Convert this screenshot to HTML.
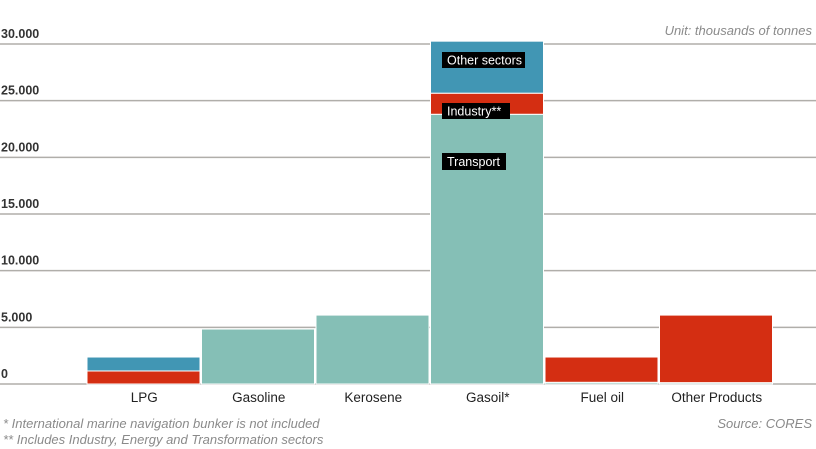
<!DOCTYPE html>
<html><head><meta charset="utf-8"><style>
body{margin:0;background:#fff;}
svg{display:block;font-family:"Liberation Sans Narrow","Liberation Sans",sans-serif;}
</style></head><body>
<svg id="chart" width="816" height="449" viewBox="0 0 816 449">
<text x="812" y="35" text-anchor="end" font-size="13" font-style="italic" fill="#8a8a8a">Unit: thousands of tonnes</text>
<g id="grid"></g>
<g id="bars"></g>
<g id="xlabels"></g>
<g font-size="12.5" fill="#fff">
<rect x="442" y="52" width="83" height="16" fill="#000"/><text x="447" y="64.5" fill="#fff">Other sectors</text>
<rect x="442" y="103" width="68" height="16" fill="#000"/><text x="447" y="115.5" fill="#fff">Industry**</text>
<rect x="442" y="153" width="64" height="17" fill="#000"/><text x="447" y="166" fill="#fff">Transport</text>
</g>
<text x="3" y="428" font-size="13" font-style="italic" fill="#8a8a8a">* International marine navigation bunker is not included</text>
<text x="3" y="444" font-size="13" font-style="italic" fill="#8a8a8a">** Includes Industry, Energy and Transformation sectors</text>
<text x="812" y="428" text-anchor="end" font-size="13" font-style="italic" fill="#8a8a8a">Source: CORES</text>
</svg>
<script>
const categories=["LPG","Gasoline","Kerosene","Gasoil*","Fuel oil","Other Products"];
const transport=[0,4850,6080,23800,150,120];
const industry=[1150,0,0,1860,2230,5960];
const otherSectors=[1230,0,0,4590,0,0];
const yTicks=[0,5000,10000,15000,20000,25000,30000];
const yTickLabels=["0","5.000","10.000","15.000","20.000","25.000","30.000"];
const ns="http://www.w3.org/2000/svg";
const y0=384,pxPer=340/30000,x0=87,bw=114.5;
const y=v=>y0-v*pxPer;
const x=i=>x0+i*bw;
function mk(tag,attrs,parent){const e=document.createElementNS(ns,tag);for(const k in attrs)e.setAttribute(k,attrs[k]);parent.appendChild(e);return e;}
const grid=document.getElementById('grid');
yTicks.forEach((t,i)=>{
 const l=mk('line',{x1:0,x2:816,y1:y(t),y2:y(t),stroke:'#b0aeaa','stroke-width':1.5},grid);
 
 
 const tx=mk('text',{x:1,y:y(t)-6,'font-size':12.5,'font-weight':'bold',fill:'#333'},grid);
 tx.textContent=yTickLabels[i];
 
 
});
const bars=document.getElementById('bars');
const series=[[transport,'#85bfb6','transport'],[industry,'#d42e12','industry'],[otherSectors,'#4196b4','other-sectors']];
categories.forEach((c,i)=>{
 let base=0;
 series.forEach(([arr,col,nm])=>{
  const v=arr[i]; if(v<=0)return;
  const r=mk('rect',{x:x(i),y:y(base+v),width:bw-1.5,height:v*pxPer,fill:col,stroke:'#fff','stroke-width':1},bars);
  
  
  base+=v;
 });
 const t=mk('text',{x:x(i)+bw/2,y:402,'text-anchor':'middle','font-size':13.5,fill:'#222'},document.getElementById('xlabels'));
 t.textContent=c;
 
 
});
</script>
</body></html>
